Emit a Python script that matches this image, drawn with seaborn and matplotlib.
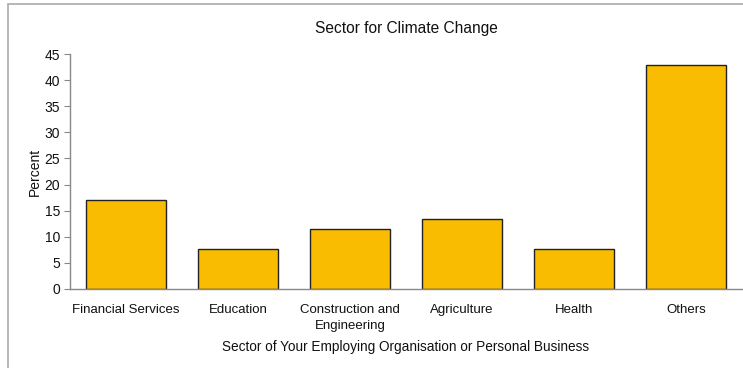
import matplotlib
matplotlib.use("Agg")
import matplotlib.pyplot as plt
import seaborn as sns
import pandas as pd
from matplotlib.patches import Rectangle

categories = ["Financial Services", "Education", "Construction and\nEngineering",
              "Agriculture", "Health", "Others"]
percent = [17.1, 7.7, 11.5, 13.4, 7.7, 42.9]

sns.set_theme(style="white")
plt.rcParams['font.family'] = ['Liberation Sans', 'DejaVu Sans']

df = pd.DataFrame({"Sector": categories, "Percent": percent})

fig = plt.figure(figsize=(7.43, 3.68), dpi=100)
ax = fig.add_axes([70/743, 1-289/368, 672/743, 235/368])

sns.barplot(data=df, x="Sector", y="Percent", ax=ax, color="#F9BC00",
            edgecolor="#222222", linewidth=1.0, width=0.714, saturation=1)

ax.set_ylim(0, 45)
ax.set_yticks(range(0, 46, 5))
ax.set_xlim(-0.5, 5.5)
for s in ["top", "right"]:
    ax.spines[s].set_visible(False)
for s in ["left", "bottom"]:
    ax.spines[s].set_color("#888888")
    ax.spines[s].set_linewidth(1.0)
ax.tick_params(axis="y", which="both", left=True, length=4, width=0.8,
               color="#888888", labelsize=10, pad=3, labelcolor="#111111")
ax.tick_params(axis="x", bottom=False, labelsize=9.5, pad=5, labelcolor="#111111")
for lbl in ax.get_xticklabels():
    lbl.set_linespacing(1.4)
ax.set_xlabel("Sector of Your Employing Organisation or Personal Business",
              fontsize=9.8, color="#111111", labelpad=6)
ax.set_ylabel("Percent", fontsize=10, color="#111111", labelpad=2)
ax.set_title("Sector for Climate Change", fontsize=11.2, color="#111111", pad=15)

fig.patches.append(Rectangle((8/743, -0.1), 1.2, 1 - 4.5/368 + 0.1,
                             transform=fig.transFigure, fill=False,
                             edgecolor="#AAAAAA", linewidth=1.2))

fig.savefig("out.png", dpi=100)
